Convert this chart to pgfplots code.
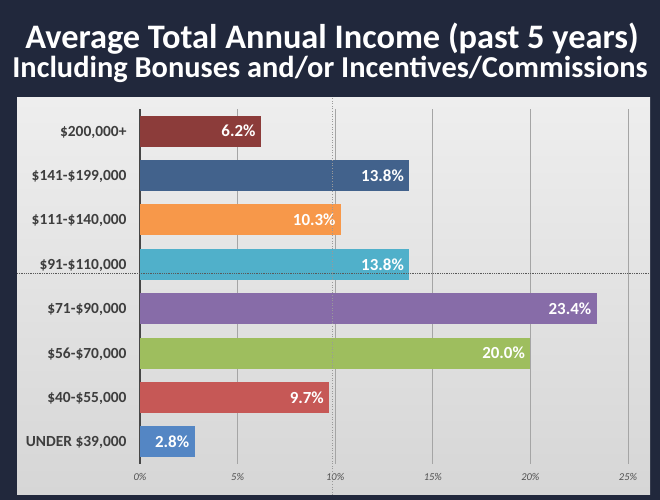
\documentclass[border=0pt]{standalone}
\usepackage{pgfplots}
\pgfplotsset{compat=1.18}
\usepackage{fontspec}
\setmainfont{Carlito}

\definecolor{navy}{RGB}{33,40,60}
\definecolor{panelTop}{RGB}{238,238,238}
\definecolor{panelBot}{RGB}{214,214,214}
\definecolor{gridgray}{RGB}{165,165,165}
\definecolor{axisgray}{RGB}{70,70,70}
\definecolor{labelgray}{RGB}{62,62,62}
\definecolor{tickgray}{RGB}{80,80,80}
% bar colours, bottom to top
\definecolor{cUnder}{RGB}{84,134,196}
\definecolor{cForty}{RGB}{198,88,86}
\definecolor{cFiftySix}{RGB}{158,190,94}
\definecolor{cSeventyOne}{RGB}{135,108,168}
\definecolor{cNinetyOne}{RGB}{80,176,202}
\definecolor{cOneEleven}{RGB}{247,152,74}
\definecolor{cOneFortyOne}{RGB}{66,98,140}
\definecolor{cTwoHundred}{RGB}{140,60,58}

\begin{document}
\begin{tikzpicture}[x=1bp,y=1bp]
  % background and panel
  \fill[navy] (0,0) rectangle (660,500);
  \shade[top color=panelTop, bottom color=panelBot] (17,5) rectangle (650,402);

  % titles
  \node[anchor=base, text=white, font=\bfseries\fontsize{34.5}{34.5}\selectfont]
    at (332,451) {Average Total Annual Income (past 5 years)};
  \node[anchor=base, text=white, font=\bfseries\fontsize{30.5}{30.5}\selectfont]
    at (330,422) {Including Bonuses and/or Incentives/Commissions};

  \begin{axis}[
      at={(140bp,36bp)}, anchor=south west,
      scale only axis,
      width=488bp, height=355bp,
      xbar, bar width=31bp, bar shift=0pt,
      xmin=0, xmax=25,
      ymin=-0.5, ymax=7.5,
      axis lines=left,
      x axis line style={draw=none},
      y axis line style={draw=axisgray, line width=1.1pt, -},
      major tick length=0pt,
      xtick={0,5,10,15,20,25},
      xticklabels={0\%,5\%,10\%,15\%,20\%,25\%},
      xticklabel style={font=\itshape\fontsize{10.5}{10.5}\selectfont, text=tickgray, yshift=-6bp},
      xmajorgrids,
      grid style={draw=gridgray, line width=0.8pt},
      ytick={0,1,2,3,4,5,6,7},
      yticklabels={{UNDER \$39,000}, {\$40-\$55,000}, {\$56-\$70,000}, {\$71-\$90,000},
                   {\$91-\$110,000}, {\$111-\$140,000}, {\$141-\$199,000}, {\$200,000+}},
      yticklabel style={font=\bfseries\fontsize{15.5}{15.5}\selectfont, text=labelgray, xshift=-10bp, yshift=-1bp},
      /pgf/number format/assume math mode=true,
      nodes near coords={\pgfmathprintnumber[fixed,precision=1,fixed zerofill,assume math mode=true]{\pgfplotspointmeta}\%},
      point meta=x,
      every node near coord/.append style={anchor=east, text=white,
        font=\bfseries\fontsize{17}{17}\selectfont, xshift=-2bp},
    ]
    \addplot[fill=cUnder, draw=none] coordinates {(2.8,0)};
    \addplot[fill=cForty, draw=none] coordinates {(9.7,1)};
    \addplot[fill=cFiftySix, draw=none] coordinates {(20.0,2)};
    \addplot[fill=cSeventyOne, draw=none] coordinates {(23.4,3)};
    \addplot[fill=cNinetyOne, draw=none] coordinates {(13.8,4)};
    \addplot[fill=cOneEleven, draw=none] coordinates {(10.3,5)};
    \addplot[fill=cOneFortyOne, draw=none] coordinates {(13.8,6)};
    \addplot[fill=cTwoHundred, draw=none] coordinates {(6.2,7)};
  \end{axis}

  % dotted overlay lines of the reference
  \draw[densely dotted, line width=0.8pt, color=black!65] (17,227) -- (650,227);
  \draw[dotted, line width=0.6pt, color=black!40] (332,5) -- (332,402);
\end{tikzpicture}
\end{document}
